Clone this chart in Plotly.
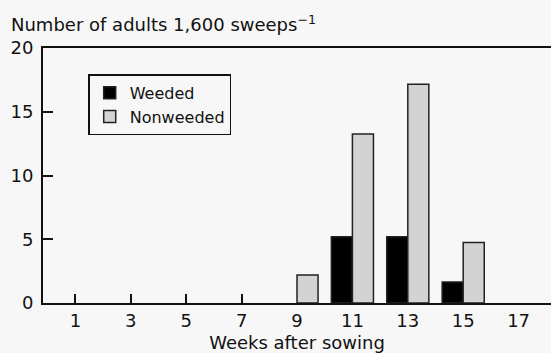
import plotly.graph_objects as go

weeks = [1, 3, 5, 7, 9, 11, 13, 15, 17]
week_labels = ["1", "3", "5", "7", "9", "11", "13", "15", "17"]
weeded = [0, 0, 0, 0, 0, 5.2, 5.2, 1.65, 0]
nonweeded = [0, 0, 0, 0, 2.2, 13.25, 17.15, 4.75, 0]
y_ticks = [0, 5, 10, 15, 20]
x_tick_marks = [1, 3, 5, 7]
x_range = [-0.17, 18.17]

FONT = "DejaVu Sans"
BG = "#f7f7f7"
INK = "#111111"


def drawn(values):
    # zero counts are shown as no bar at all (no outline on the baseline)
    return [v if v > 0 else None for v in values]


fig = go.Figure()
fig.add_trace(go.Bar(x=weeks, y=drawn(weeded), name="Weeded",
                     marker=dict(color="#000000", line=dict(color="#222222", width=1.5))))
fig.add_trace(go.Bar(x=weeks, y=drawn(nonweeded), name="Nonweeded",
                     marker=dict(color="#d3d3d3", line=dict(color="#222222", width=1.5))))
# invisible carrier for the secondary x axis that draws the inner tick marks
fig.add_trace(go.Scatter(x=x_tick_marks, y=[None] * len(x_tick_marks), xaxis="x2", yaxis="y",
                         mode="markers", marker=dict(opacity=0), showlegend=False, hoverinfo="skip"))

fig.update_layout(
    width=551, height=353,
    margin=dict(l=43, r=0, t=48, b=50, pad=0, autoexpand=False),
    paper_bgcolor=BG, plot_bgcolor=BG,
    barmode="group", bargap=0.24, bargroupgap=0,
    font=dict(family=FONT, size=18, color=INK),
    title=dict(text="Number of adults 1,600 sweeps<sup>−1</sup>",
               x=11 / 551, xref="container", xanchor="left",
               y=1 - 25 / 353, yref="container", yanchor="middle",
               font=dict(family=FONT, size=18, color=INK)),
    showlegend=True,
    legend=dict(x=0.089, y=0.897, xanchor="left", yanchor="top",
                bgcolor=BG, bordercolor=INK, borderwidth=1.5,
                font=dict(family=FONT, size=16, color=INK),
                traceorder="normal"),
    xaxis=dict(range=x_range, tickmode="array", tickvals=weeks, ticktext=week_labels,
               ticks="", showline=True, linecolor=INK, linewidth=2, mirror=True,
               showgrid=False, zeroline=False, automargin=False,
               title=dict(text="Weeks after sowing", font=dict(size=18), standoff=8),
               tickfont=dict(size=18)),
    xaxis2=dict(overlaying="x", anchor="y", side="bottom", range=x_range,
                tickmode="array", tickvals=x_tick_marks,
                ticks="inside", ticklen=9, tickwidth=1.5, tickcolor=INK, automargin=False,
                showticklabels=False, showline=False, showgrid=False, zeroline=False),
    yaxis=dict(range=[0, 20], tickmode="array", tickvals=y_ticks,
               ticks="inside", ticklen=10, tickwidth=1.5, tickcolor=INK,
               showline=True, linecolor=INK, linewidth=2, automargin=False,
               ticklabelstandoff=4,
               showgrid=False, zeroline=False, tickfont=dict(size=18)),
)

fig.write_html(
    "out.html",
    config={"displayModeBar": False},
    post_script="document.body.style.margin='0';document.body.style.background='#f7f7f7';",
)
